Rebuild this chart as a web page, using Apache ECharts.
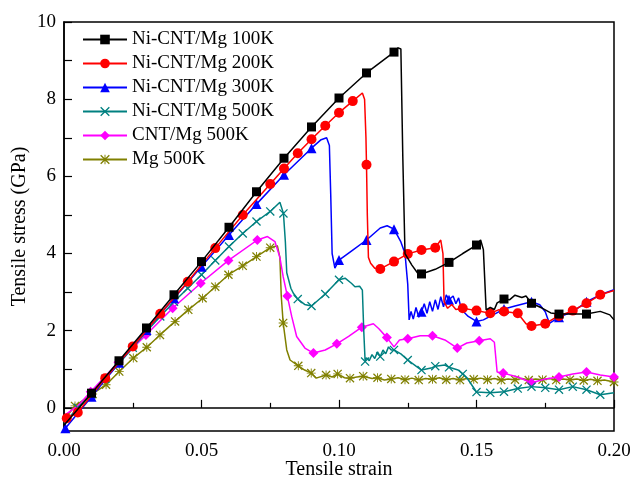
<!DOCTYPE html>
<html>
<head>
<meta charset="utf-8">
<script src="https://cdn.jsdelivr.net/npm/echarts@6/dist/echarts.min.js"></script>
<style>
html, body { margin: 0; padding: 0; background: #fff; }
#main { width: 643px; height: 486px; }
</style>
</head>
<body>
<div id="main"></div>
<script>
// strain, stress (GPa), 1 = point carries a marker
var names = ['Ni-CNT/Mg 100K', 'Ni-CNT/Mg 200K', 'Ni-CNT/Mg 300K', 'Ni-CNT/Mg 500K', 'CNT/Mg 500K', 'Mg 500K'];

var ni100 = [[0,-0.45],[0.01,0.38,1],[0.02,1.22,1],[0.03,2.07,1],[0.04,2.93,1],[0.05,3.79,1],[0.06,4.68,1],
  [0.07,5.6,1],[0.08,6.47,1],[0.09,7.28,1],[0.10,8.03,1],[0.11,8.68,1],[0.12,9.22,1],[0.1215,9.33],[0.1225,9.3],
  [0.1232,6.5],[0.124,4.0],[0.1265,3.7],[0.1285,3.5],[0.13,3.47,1],[0.135,3.59],[0.14,3.77,1],[0.145,4.0],
  [0.15,4.22,1],[0.1515,4.35],[0.1525,4.1],[0.1535,2.54],[0.155,2.6],[0.1565,2.55],[0.1575,2.72],[0.16,2.82,1],
  [0.162,2.8],[0.164,2.92],[0.1665,2.86],[0.168,2.9],[0.17,2.71,1],[0.174,2.58],[0.177,2.46],[0.18,2.43,1],
  [0.185,2.43],[0.19,2.43,1],[0.195,2.5],[0.1985,2.41],[0.2,2.28]];

var ni200 = [[0,-0.3],[0.001,-0.27,1],[0.005,-0.12,1],[0.015,0.77,1],[0.025,1.59,1],[0.035,2.44,1],[0.045,3.27,1],
  [0.055,4.14,1],[0.065,5.0,1],[0.075,5.8,1],[0.08,6.2,1],[0.085,6.6,1],[0.09,6.96,1],[0.095,7.31,1],[0.1,7.65,1],
  [0.105,7.95,1],[0.1085,8.16],[0.1093,8.0],[0.1098,7.0],[0.11,6.3,1],[0.1103,5.0],[0.1107,3.9],[0.1115,3.75],
  [0.113,3.62],[0.115,3.6,1],[0.12,3.79,1],[0.125,3.99,1],[0.13,4.09,1],[0.135,4.15,1],[0.137,4.35],[0.1378,4.0],
  [0.1382,2.75],[0.1395,2.58],[0.141,2.68],[0.1425,2.55],[0.145,2.58,1],[0.15,2.52,1],[0.155,2.45,1],[0.158,2.54],
  [0.16,2.5,1],[0.165,2.45,1],[0.168,2.18],[0.17,2.12,1],[0.175,2.18,1],[0.179,2.35],[0.18,2.38,1],[0.185,2.52,1],
  [0.19,2.71,1],[0.195,2.93,1],[0.2,3.04]];

var ni300 = [[0.0005,-0.53,1],[0.01,0.29,1],[0.02,1.17,1],[0.03,2.02,1],[0.04,2.84,1],[0.05,3.66,1],[0.06,4.48,1],
  [0.07,5.28,1],[0.08,6.04,1],[0.09,6.73,1],[0.0935,6.95],[0.0955,7.0],[0.0965,6.8],[0.097,5.5],[0.0975,4.0],
  [0.0985,3.62],[0.1,3.83,1],[0.105,4.09],[0.11,4.35,1],[0.115,4.66],[0.1175,4.72],[0.12,4.63,1],[0.1225,4.3],
  [0.124,4.0],[0.125,3.2],[0.1255,2.28],[0.1262,2.5],[0.127,2.3],[0.128,2.6],[0.129,2.35],[0.13,2.49,1],
  [0.131,2.7],[0.132,2.45],[0.133,2.75],[0.134,2.5],[0.135,2.8],[0.136,2.55],[0.137,2.88],[0.138,2.62],
  [0.139,2.93],[0.14,2.8,1],[0.1415,2.9],[0.1425,2.7],[0.1435,2.85],[0.1445,2.55],[0.147,2.37],[0.15,2.24,1],
  [0.1525,2.28],[0.156,2.41],[0.16,2.56,1],[0.164,2.64],[0.17,2.75,1],[0.173,2.67],[0.175,2.49],[0.1765,2.19],
  [0.18,2.35,1],[0.185,2.49],[0.19,2.75,1],[0.195,2.93],[0.2,3.06]];

var ni500 = [[0,-0.4],[0.005,0.0,1],[0.01,0.35,1],[0.015,0.75,1],[0.02,1.15,1],[0.025,1.56,1],[0.03,1.98,1],
  [0.035,2.37,1],[0.04,2.75,1],[0.045,3.1,1],[0.05,3.45,1],[0.055,3.82,1],[0.06,4.18,1],[0.065,4.52,1],
  [0.07,4.83,1],[0.075,5.09,1],[0.0785,5.33],[0.0798,5.04,1],[0.0805,4.3],[0.081,3.5],[0.0825,3.1],
  [0.0834,2.97],[0.085,2.82,1],[0.0875,2.68],[0.09,2.64,1],[0.095,2.95,1],[0.1,3.32,1],[0.1022,3.36],
  [0.1045,3.23],[0.1058,3.14],[0.1075,3.15],[0.1085,3.05],[0.109,2.0],[0.1095,1.2,1],[0.11,1.3],[0.111,1.22],
  [0.112,1.38],[0.113,1.28],[0.114,1.45],[0.115,1.33,1],[0.116,1.5],[0.117,1.4],[0.118,1.58],[0.119,1.5],
  [0.12,1.5,1],[0.1225,1.4],[0.125,1.24,1],[0.128,1.08],[0.13,0.98,1],[0.1335,1.03],[0.135,1.08,1],
  [0.1385,1.11],[0.14,1.05,1],[0.1433,0.98],[0.145,0.88,1],[0.1465,0.78],[0.15,0.41,1],[0.155,0.39,1],
  [0.16,0.42,1],[0.165,0.5,1],[0.17,0.55,1],[0.175,0.52,1],[0.18,0.47,1],[0.185,0.55,1],[0.19,0.47,1],
  [0.195,0.34,1],[0.2,0.39]];

var cnt500 = [[0,-0.2],[0.005,0.05],[0.0097,0.42,1],[0.0198,1.18,1],[0.0298,1.89,1],[0.0395,2.58,1],
  [0.0497,3.23,1],[0.0598,3.82,1],[0.0703,4.35,1],[0.074,4.44],[0.0767,4.31],[0.0785,3.9],[0.0797,3.4],
  [0.0812,2.9,1],[0.0828,2.37],[0.0846,1.85],[0.0876,1.55],[0.0907,1.42,1],[0.095,1.5],[0.0992,1.66,1],
  [0.1035,1.85],[0.1083,2.09,1],[0.1125,2.18],[0.1145,2.05],[0.1174,1.82,1],[0.12,1.58],[0.122,1.76],
  [0.125,1.79,1],[0.1295,1.87],[0.134,1.87,1],[0.1385,1.76],[0.143,1.55,1],[0.1465,1.68],[0.151,1.74,1],
  [0.155,1.79],[0.1565,1.7],[0.1575,0.93],[0.1597,0.9,1],[0.165,0.8],[0.17,0.65,1],[0.175,0.75],
  [0.18,0.8,1],[0.185,0.88],[0.19,0.93,1],[0.195,0.85],[0.2,0.8,1]];

var mg500 = [[0,-0.3],[0.004,0.05,1],[0.0104,0.36,1],[0.0153,0.6,1],[0.0201,0.94,1],[0.0252,1.29,1],
  [0.0301,1.57,1],[0.0349,1.89,1],[0.0404,2.24,1],[0.0452,2.54,1],[0.0504,2.84,1],[0.055,3.14,1],
  [0.0598,3.45,1],[0.065,3.68,1],[0.07,3.92,1],[0.075,4.15,1],[0.0776,4.2],[0.0785,3.9],[0.079,2.9],
  [0.0797,2.2,1],[0.081,1.5],[0.0822,1.24],[0.0852,1.09,1],[0.0875,0.98],[0.0899,0.9,1],[0.0917,0.77],
  [0.0953,0.85,1],[0.0975,0.8],[0.0995,0.88,1],[0.102,0.78],[0.104,0.77,1],[0.1065,0.8],[0.1088,0.82,1],
  [0.112,0.76],[0.114,0.78,1],[0.1165,0.72],[0.119,0.75,1],[0.1215,0.78],[0.124,0.73,1],[0.1265,0.77],
  [0.129,0.72,1],[0.1315,0.76],[0.134,0.74,1],[0.1365,0.78],[0.139,0.73,1],[0.1415,0.76],[0.144,0.72,1],
  [0.1465,0.76],[0.149,0.74,1],[0.1515,0.77],[0.154,0.73,1],[0.1565,0.76],[0.159,0.72,1],[0.1615,0.75],
  [0.164,0.73,1],[0.1665,0.76],[0.169,0.72,1],[0.1715,0.75],[0.174,0.73,1],[0.1765,0.76],[0.179,0.72,1],
  [0.1815,0.75],[0.184,0.73,1],[0.1865,0.75],[0.189,0.71,1],[0.1915,0.74],[0.194,0.7,1],[0.1965,0.72],
  [0.2,0.67,1]];

var yTicks = [0, 1, 2, 3, 4, 5, 6, 7, 8, 9, 10];
var yTickLabels = [0, 2, 4, 6, 8, 10];

var curves = [ni100, ni200, ni300, ni500, cnt500, mg500];
var colors = ['#000000', '#ff0000', '#0000ff', '#008080', '#ff00ff', '#808000'];
var crossPath = 'path://M0,1L1,0L10,9L9,10Z M9,0L10,1L1,10L0,9Z';
var starPath = 'path://M0,1L1,0L10,9L9,10Z M9,0L10,1L1,10L0,9Z M4.5,0L5.5,0L5.5,10L4.5,10Z M0,4.5L10,4.5L10,5.5L0,5.5Z';
var symbols = ['rect', 'circle', 'triangle', crossPath, 'diamond', starPath];
var sizes = [9, 10, 10, 9, 10, 9];

var font = 'Liberation Serif';

var series = [];
for (var i = 0; i < curves.length; i++) {
    series.push({
        name: names[i],
        type: 'line',
        symbol: symbols[i],
        symbolSize: sizes[i],
        showSymbol: true,
        showAllSymbol: true,
        lineStyle: { color: colors[i], width: 1.5 },
        itemStyle: { color: colors[i] },
        z: 10 - i,
        data: curves[i].map(function (p) {
            if (p[2]) return [p[0], p[1]];
            return { value: [p[0], p[1]], symbol: 'none' };
        })
    });
}

var option = {
    animation: false,
    backgroundColor: '#fff',
    grid: {
        left: 64, right: 29, top: 22, bottom: 55,
        containLabel: false,
        outerBoundsMode: 'none',
        show: true, borderColor: '#000', borderWidth: 1.5
    },
    legend: {
        orient: 'vertical',
        left: 82,
        top: 30,
        padding: 0,
        itemWidth: 44,
        itemHeight: 12,
        itemGap: 5,
        textStyle: { fontFamily: font, fontSize: 19, color: '#000', lineHeight: 19 },
        data: names
    },
    xAxis: {
        type: 'value',
        min: 0,
        max: 0.2,
        interval: 0.05,
        name: 'Tensile strain',
        nameLocation: 'middle',
        nameGap: 29,
        nameMoveOverlap: false,
        nameTextStyle: { fontFamily: font, fontSize: 20, color: '#000' },
        axisLine: { lineStyle: { color: '#000', width: 1.5 } },
        axisTick: { inside: true, length: 8, lineStyle: { color: '#000', width: 1.2 } },
        minorTick: { show: true, splitNumber: 2, length: 5, lineStyle: { color: '#000', width: 1.2 } },
        splitLine: { show: false },
        axisLabel: {
            fontFamily: font, fontSize: 19, color: '#000', margin: 11,
            formatter: function (v) { return v.toFixed(2); }
        }
    },
    yAxis: {
        type: 'value',
        min: -0.6,
        max: 10,
        name: 'Tensile stress (GPa)',
        nameLocation: 'middle',
        nameGap: 34,
        nameMoveOverlap: false,
        nameTextStyle: { fontFamily: font, fontSize: 20, color: '#000' },
        axisLine: { show: true, lineStyle: { color: '#000', width: 1.5 } },
        axisTick: { inside: true, length: 8, customValues: yTicks, lineStyle: { color: '#000', width: 1.2 } },
        splitLine: { show: false },
        axisLabel: {
            fontFamily: font, fontSize: 19, color: '#000', margin: 8,
            customValues: yTickLabels
        }
    },
    series: series
};

var myChart = echarts.init(document.getElementById('main'));
myChart.setOption(option);
</script>
</body>
</html>
